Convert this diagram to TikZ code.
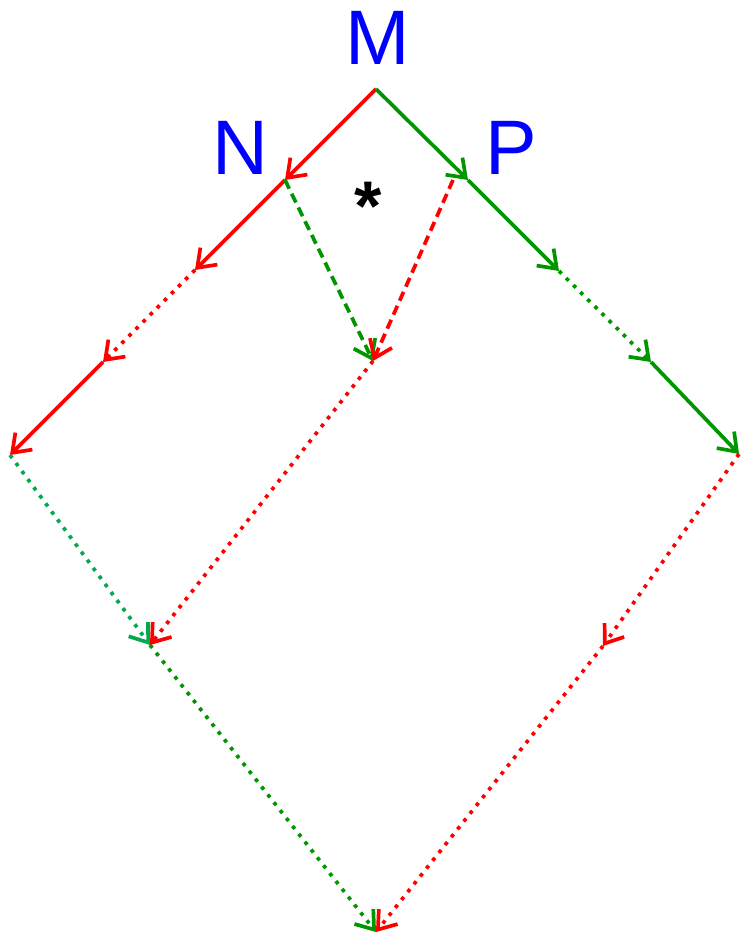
\documentclass[tikz,border=0pt]{standalone}
\usepackage{fontspec}
\setmainfont{Liberation Sans}
\usetikzlibrary{positioning,arrows.meta}
\definecolor{LineRed}{RGB}{255,0,0}
\definecolor{LineGreen}{RGB}{0,150,0}
\definecolor{LineTeal}{RGB}{0,170,80}
\definecolor{LabelBlue}{RGB}{0,0,255}

\begin{document}
\begin{tikzpicture}[x=0.02cm, y=-0.02cm,
    arrow/.style={-{Straight Barb[length=3.3mm, width=4.8mm, line width=2.1pt]}, line width=2.1pt},
    solidline/.style={arrow},
    dashline/.style={arrow, dash pattern=on 5.5pt off 3.2pt},
    dotline/.style={arrow, dash pattern=on 2.1pt off 3.6pt},
    lbl/.style={text=LabelBlue, font=\fontsize{44}{44}\selectfont, inner sep=0pt}
]
    \useasboundingbox (0,0) rectangle (740,935);

    \coordinate (m) at (376,89);
    \coordinate (n) at (285,180);
    \coordinate (p) at (468,180);
    \coordinate (pd) at (453,180);
    \coordinate (a) at (195,270);
    \coordinate (b) at (103,362);
    \coordinate (c) at (10,455);
    \coordinate (d) at (373,361);
    \coordinate (e) at (150,645);
    \coordinate (f) at (376,932);
    \coordinate (g) at (559,271);
    \coordinate (h) at (651,362);
    \coordinate (i) at (739,454);
    \coordinate (j) at (603,646);

    \node[lbl] (labm) at (378,38) {M};
    \node[lbl] (labn) at (240,148) {N};
    \node[lbl] (labp) at (511,148) {P};
    \node[font=\fontsize{40}{40}\selectfont\bfseries, inner sep=0pt] (star) at (368,206) {*};

    % left chain
    \draw[solidline, LineRed] (m) -- (n);
    \draw[solidline, LineRed] (n) -- (a);
    \draw[dotline, LineRed] (a) -- (b);
    \draw[solidline, LineRed] (b) -- (c);

    % right chain
    \draw[solidline, LineGreen] (m) -- (p);
    \draw[solidline, LineGreen] (p) -- (g);
    \draw[dotline, LineGreen] (g) -- (h);
    \draw[solidline, LineGreen] (h) -- (i);

    % middle
    \draw[dashline, LineGreen] (n) -- (d);
    \draw[dashline, LineRed] (pd) -- (d);
    \draw[dotline, LineRed] (d) -- (e);
    \draw[dotline, LineTeal] (c) -- (e);

    % bottom
    \draw[dotline, LineGreen] (e) -- (f);
    \draw[dotline, LineRed] (i) -- (j);
    \draw[dotline, LineRed] (j) -- (f);
\end{tikzpicture}
\end{document}
